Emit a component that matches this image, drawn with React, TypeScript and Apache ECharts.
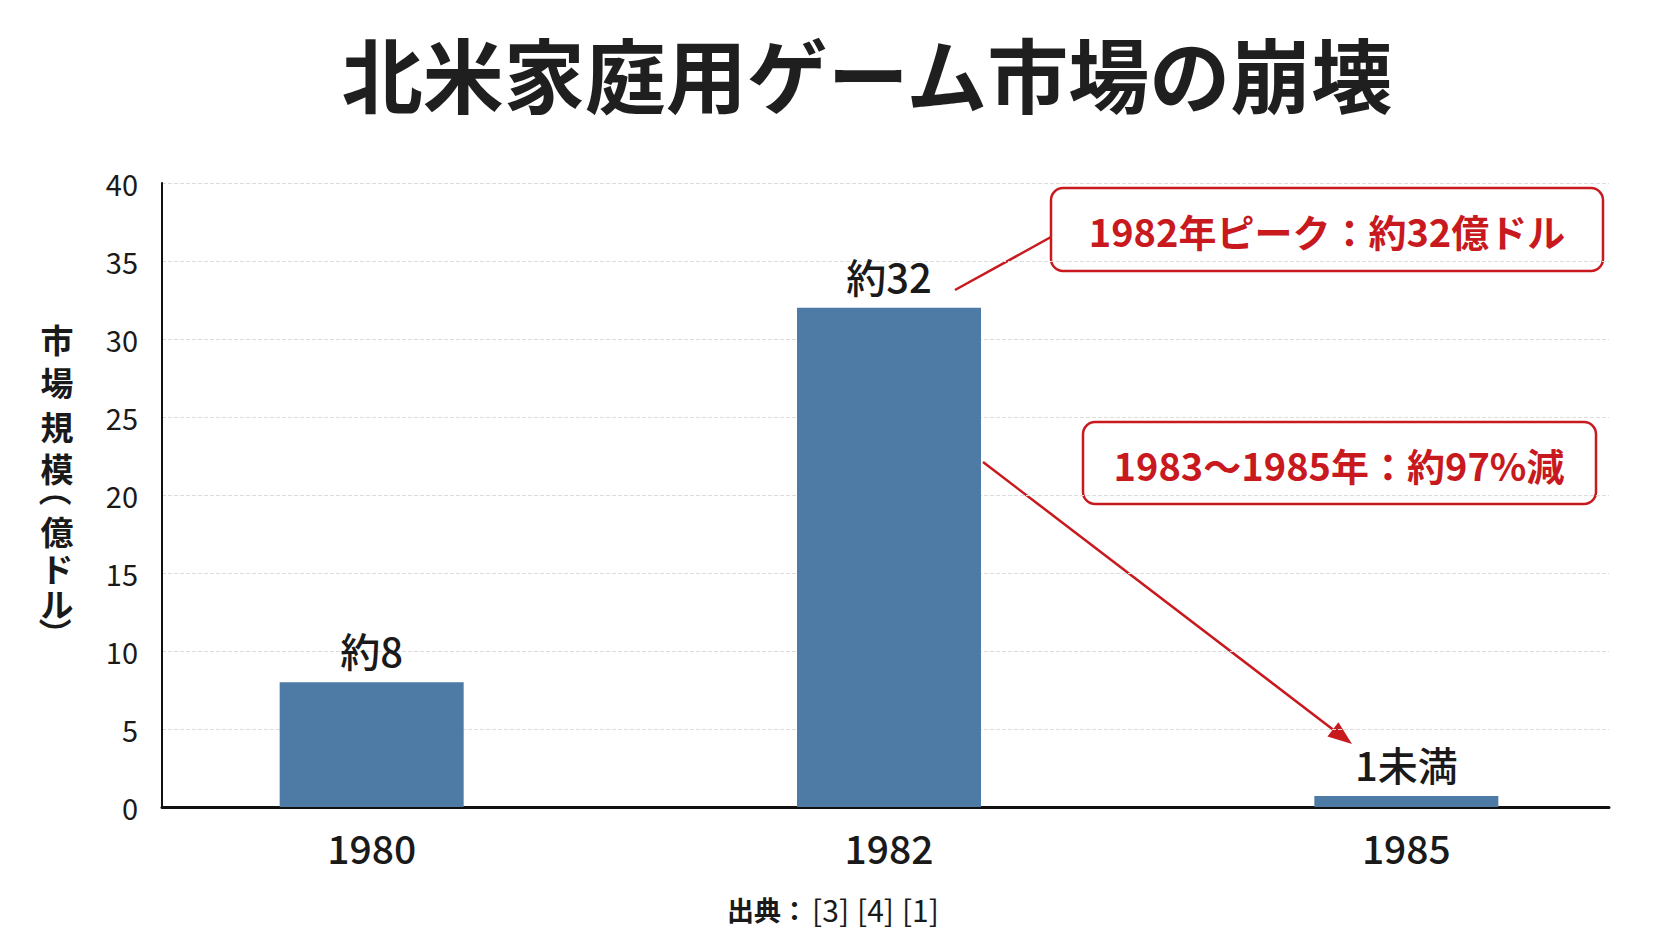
import React, { useEffect, useRef } from "react";
import * as echarts from "echarts";

const years = ["1980", "1982", "1985"];
const marketSize = [8, 32, 0.7];
const barLabels = ["約8", "約32", "1未満"];
const yTicks = { min: 0, max: 40, interval: 5 };
const titleText = "北米家庭用ゲーム市場の崩壊";
const yAxisName = ["市", "場", "規", "模", "（", "億", "ド", "ル", "）"];
const notePeak = "1982年ピーク：約32億ドル";
const noteDrop = "1983～1985年：約97%減";
const sourceLabel = "出典：";
const sourceRefs = ["[3]", "[4]", "[1]"];

const FONT = "'Noto Sans CJK JP', 'Noto Sans', sans-serif";
const RED = "#c8191e";
const BAR = "#4e7aa6";
const INK = "#1a1a1a";

// vertical placement (px) of each character of the stacked y-axis title
const NAME_Y = [339, 382, 426, 468, 490, 531, 568, 603, 634];

export default function App() {
  const ref = useRef<HTMLDivElement>(null);
  useEffect(() => {
    document.body.style.margin = "0";
    if (!ref.current) return;
    const chart = echarts.init(ref.current, undefined, { renderer: "svg" });

    // arrow geometry for the decline annotation
    const sx = 983, sy = 462, tx = 1352, ty = 744;
    const dx = tx - sx, dy = ty - sy;
    const len = Math.sqrt(dx * dx + dy * dy);
    const ux = dx / len, uy = dy / len;
    const headL = 24, headW = 9;
    const bx = tx - ux * headL, by = ty - uy * headL;
    const px = -uy, py = ux;

    const nameTexts = yAxisName.map((ch, i) => {
      const isParen = ch === "（" || ch === "）";
      return {
        type: "text",
        x: 57,
        y: NAME_Y[i],
        rotation: isParen ? -Math.PI / 2 : 0,
        style: {
          text: ch,
          font: `bold 33px ${FONT}`,
          fill: INK,
          align: "center",
          verticalAlign: "middle",
        },
      };
    });

    const sourceRich = `{b|${sourceLabel}}` + sourceRefs.map((s) => `{r|${s}}`).join("");

    chart.setOption({
      animation: false,
      backgroundColor: "#ffffff",
      textStyle: { fontFamily: FONT },
      grid: [
        { left: 162, right: 63, top: 183, bottom: 134, containLabel: false },
        { left: 113, right: 7, top: 183, bottom: 134, containLabel: false },
      ],
      xAxis: [
        {
          type: "category",
          gridIndex: 0,
          data: years,
          axisTick: { show: false },
          axisLine: { show: true, lineStyle: { color: "#111", width: 3 } },
          axisLabel: { show: false },
          splitLine: { show: false },
        },
        {
          type: "category",
          gridIndex: 1,
          data: years,
          axisTick: { show: false },
          axisLine: { show: false },
          axisLabel: { color: INK, fontSize: 39, fontWeight: 500, fontFamily: FONT, margin: 20 },
          splitLine: { show: false },
        },
      ],
      yAxis: [
        {
          type: "value",
          gridIndex: 0,
          min: yTicks.min,
          max: yTicks.max,
          interval: yTicks.interval,
          axisLine: { show: true, lineStyle: { color: "#111", width: 2 } },
          axisTick: { show: false },
          axisLabel: { color: INK, fontSize: 29, fontFamily: FONT, margin: 24 },
          splitLine: { show: true, lineStyle: { type: "dashed", color: "#dcdcdc", width: 1 } },
        },
        {
          type: "value",
          gridIndex: 1,
          min: yTicks.min,
          max: yTicks.max,
          interval: yTicks.interval,
          show: false,
          splitLine: { show: false },
        },
      ],
      series: [
        {
          type: "bar",
          xAxisIndex: 1,
          yAxisIndex: 1,
          data: marketSize,
          barWidth: 184,
          itemStyle: { color: BAR },
          label: {
            show: true,
            position: "top",
            distance: 12,
            fontSize: 40,
            fontWeight: 500,
            color: INK,
            fontFamily: FONT,
            formatter: (p: any) => barLabels[p.dataIndex],
          },
        },
      ],
      graphic: [
        {
          type: "text",
          x: 867,
          y: 71,
          style: {
            text: titleText,
            font: `bold 81px ${FONT}`,
            fill: "#1f1f1f",
            align: "center",
            verticalAlign: "middle",
          },
        },
        ...nameTexts,
        {
          type: "line",
          shape: { x1: 955, y1: 290, x2: 1051, y2: 237 },
          style: { stroke: RED, lineWidth: 2.5 },
        },
        {
          type: "rect",
          shape: { x: 1051, y: 188, width: 552, height: 83, r: 12 },
          style: { fill: "#ffffff", stroke: RED, lineWidth: 2.5 },
        },
        {
          type: "text",
          x: 1327,
          y: 230,
          style: {
            text: notePeak,
            font: `600 38px ${FONT}`,
            fill: RED,
            align: "center",
            verticalAlign: "middle",
          },
        },
        {
          type: "line",
          shape: { x1: sx, y1: sy, x2: bx, y2: by },
          style: { stroke: RED, lineWidth: 2.5 },
        },
        {
          type: "polygon",
          shape: {
            points: [
              [tx, ty],
              [bx + px * headW, by + py * headW],
              [bx - px * headW, by - py * headW],
            ],
          },
          style: { fill: RED },
        },
        {
          type: "rect",
          shape: { x: 1083, y: 422, width: 513, height: 82, r: 12 },
          style: { fill: "#ffffff", stroke: RED, lineWidth: 2.5 },
        },
        {
          type: "text",
          x: 1339,
          y: 464,
          style: {
            text: noteDrop,
            font: `600 38px ${FONT}`,
            fill: RED,
            align: "center",
            verticalAlign: "middle",
          },
        },
        {
          type: "text",
          x: 835,
          y: 909,
          style: {
            text: sourceRich,
            align: "center",
            verticalAlign: "middle",
            fill: INK,
            rich: {
              b: { font: `bold 27px ${FONT}`, fill: INK },
              r: { font: `normal 30px ${FONT}`, fill: INK, padding: [0, 4, 0, 4] },
            },
          },
        },
      ],
    });
    return () => chart.dispose();
  }, []);
  return <div ref={ref} style={{ width: 1672, height: 941 }} />;
}
